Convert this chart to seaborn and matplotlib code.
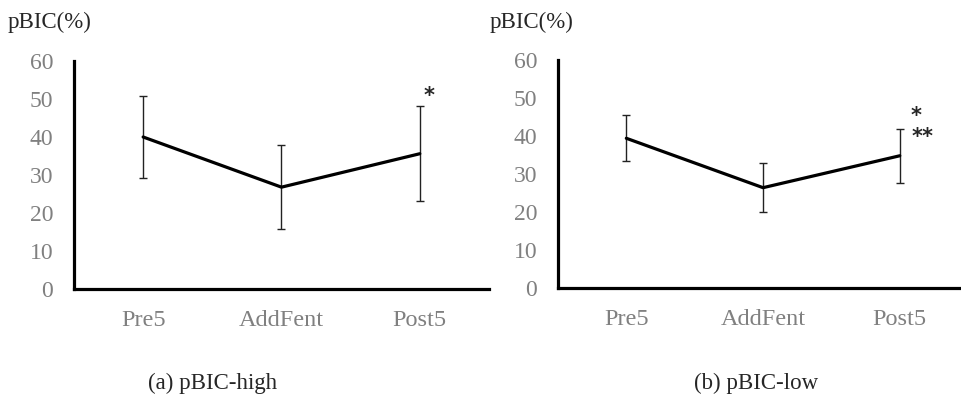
import numpy as np
import pandas as pd
import matplotlib
matplotlib.use("Agg")
import matplotlib.pyplot as plt
import seaborn as sns

# === Data ===
phases = ["Pre5", "AddFent", "Post5"]
high_mean = [40.0, 26.8, 35.6]
high_sd = [10.9, 11.0, 12.5]
low_mean = [39.4, 26.4, 34.8]
low_sd = [6.0, 6.5, 7.1]
y_ticks = [0, 10, 20, 30, 40, 50, 60]

sns.set_style("white")
plt.rcParams["font.family"] = ["Liberation Serif", "DejaVu Serif"]

fig = plt.figure(figsize=(9.62, 4.0), dpi=100)
ax_a = fig.add_axes([0.0769, 0.2775, 0.4314, 0.570])
ax_b = fig.add_axes([0.580, 0.280, 0.420, 0.570])


def draw_panel(ax, means, sds, xmax):
    df = pd.DataFrame({"phase": phases, "pos": np.arange(len(phases)), "mean": means})
    ax.errorbar(df["pos"], df["mean"], yerr=sds, fmt="none", ecolor="#222222",
                elinewidth=1.0, capsize=2.6, capthick=1.0, zorder=2)
    sns.lineplot(data=df, x="pos", y="mean", color="black", linewidth=2.3, ax=ax, zorder=3)

    ax.set_xlim(-0.5, xmax)
    ax.set_ylim(0, 60)
    ax.set_xticks(df["pos"])
    ax.set_xticklabels(phases, fontsize=17.5)
    ax.set_yticks(y_ticks)
    ax.set_yticklabels([str(t) for t in y_ticks], fontsize=17)
    ax.tick_params(axis="both", length=0, colors="#808080")
    ax.tick_params(axis="y", pad=15)
    ax.tick_params(axis="x", pad=15)
    ax.set_xlabel("")
    ax.set_ylabel("")
    for side in ["top", "right"]:
        ax.spines[side].set_visible(False)
    for side in ["left", "bottom"]:
        ax.spines[side].set_color("black")
        ax.spines[side].set_linewidth(2.3)
    ax.spines["left"].set_capstyle("projecting")


draw_panel(ax_a, high_mean, high_sd, 2.5)
draw_panel(ax_b, low_mean, low_sd, 2.455)

# significance marks
ax_a.text(2.07, 50.8, "*", ha="center", va="center", fontsize=15,
          fontweight="bold", family=["DejaVu Sans"])
ax_b.text(2.12, 45.2, "*", ha="center", va="center", fontsize=15,
          fontweight="bold", family=["DejaVu Sans"])
ax_b.text(2.17, 39.8, "**", ha="center", va="center", fontsize=15,
          fontweight="bold", family=["DejaVu Sans"])

# axis titles and captions
fig.text(8 / 962, 1 - 22 / 400, "pBIC(%)", ha="left", va="center", fontsize=16.5)
fig.text(490 / 962, 1 - 22 / 400, "pBIC(%)", ha="left", va="center", fontsize=16.5)
fig.text(213 / 962, 1 - 383 / 400, "(a) pBIC-high", ha="center", va="center", fontsize=16.5)
fig.text(756 / 962, 1 - 383 / 400, "(b) pBIC-low", ha="center", va="center", fontsize=16.5)

fig.savefig("out.png", dpi=100)
plt.close(fig)
